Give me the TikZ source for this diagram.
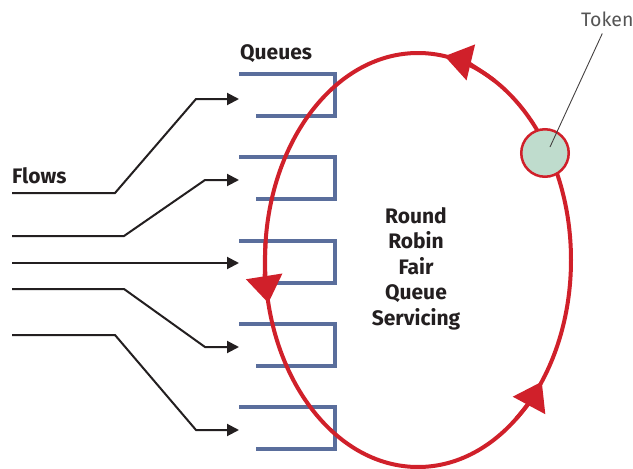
\documentclass[tikz,border=0pt]{standalone}
\usepackage{fontspec}
\setmainfont{Fira Sans}
\usetikzlibrary{arrows.meta,calc}
\definecolor{ringred}{HTML}{D0202A}
\definecolor{qblue}{HTML}{5A6E9C}
\definecolor{tokfill}{HTML}{BFDCCD}
\definecolor{ink}{HTML}{231F20}
\definecolor{tokgray}{HTML}{555555}
\begin{document}
\begin{tikzpicture}[x=1pt,y=-1pt,
  queue/.style={draw=qblue,line width=4pt},
  flow/.style={draw=ink,line width=2pt,-{Triangle[length=12pt,width=12pt]}},
  ring/.style={draw=ringred,line width=4pt},
  ringtip/.style={draw=ringred,fill=ringred,line width=4pt,-{Triangle[length=27pt,width=36pt]}},
  lbl/.style={font=\bfseries\fontsize{21}{25.5}\selectfont,text=ink,inner sep=0pt},
  tokstyle/.style={circle,draw=ringred,fill=tokfill,line width=2.5pt,minimum size=47.5pt,inner sep=0pt},
  toklbl/.style={font=\fontsize{19.5}{22}\selectfont,text=tokgray,inner sep=0pt},
  pointer/.style={draw=ink!85,line width=0.9pt}]
\useasboundingbox (0,0) rectangle (633,469);

% queues
\foreach \t [count=\i] in {74,157,241,324,407} {
  \draw[queue] (239,\t) -- (335,\t) -- (335,\t+42) -- (256,\t+42);
}
\coordinate (q1) at (239,99);
\coordinate (q2) at (239,180);
\coordinate (q3) at (239,263);
\coordinate (q4) at (239,347);
\coordinate (q5) at (239,430);

% flows
\coordinate (f1) at (12,193);
\coordinate (f2) at (12,236);
\coordinate (f3) at (12,263);
\coordinate (f4) at (12,289);
\coordinate (f5) at (12,335);
\draw[flow] (f1) -- (115,193) -- (196,99) -- (q1);
\draw[flow] (f2) -- (124,236) -- (205,180) -- (q2);
\draw[flow] (f3) -- (q3);
\draw[flow] (f4) -- (124,289) -- (205,347) -- (q4);
\draw[flow] (f5) -- (115,335) -- (196,430) -- (q5);

% ring
\coordinate (ringc) at (418,260);
\draw[ring] (ringc) ellipse[x radius=153, y radius=207];
\draw[ringtip] ($(ringc)+(-60:153 and 207)$) arc[start angle=-60,end angle=-80,x radius=153,y radius=207];
\draw[ringtip] ($(ringc)+(185:153 and 207)$) arc[start angle=185,end angle=168,x radius=153,y radius=207];
\draw[ringtip] ($(ringc)+(50:153 and 207)$) arc[start angle=50,end angle=36,x radius=153,y radius=207];

% token
\node[tokstyle] (tok) at (545,153) {};
\node[toklbl,anchor=base west] (toklab) at (581,26) {Token};
\draw[pointer] ($(toklab.south)+(-5,7)$) -- ($(tok.center)+(5,-6)$);

% labels
\node[lbl,anchor=base west] (flows) at (12,183) {Flows};
\node[lbl,anchor=base west] (queues) at (240,59) {Queues};
\node[lbl,align=center,anchor=north] (rr) at (416,207) {Round\\Robin\\Fair\\Queue\\Servicing};
\end{tikzpicture}
\end{document}
